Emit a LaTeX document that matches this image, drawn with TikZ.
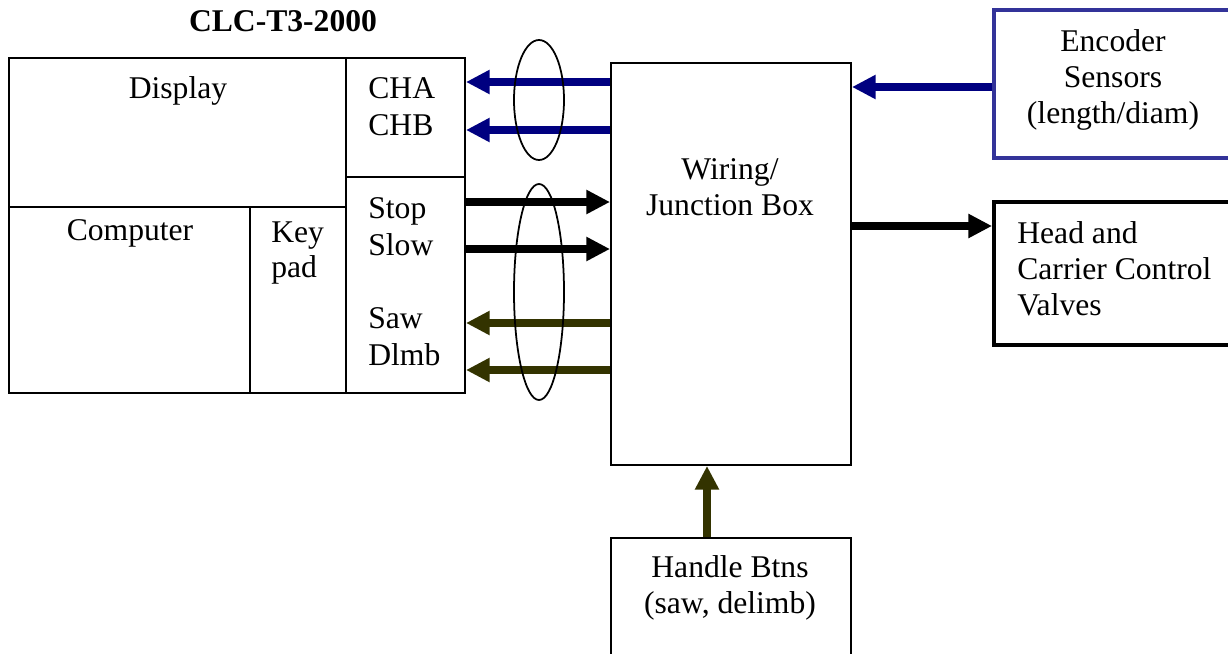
\documentclass[tikz,border=0pt]{standalone}
\usepackage{fontspec}
\setmainfont{Liberation Serif}
\usetikzlibrary{arrows.meta,fit}
\definecolor{busblue}{RGB}{0, 0, 128}
\definecolor{busolive}{RGB}{51, 51, 0}
\definecolor{encblue}{RGB}{51, 51, 153}

\begin{document}
\begin{tikzpicture}[x=0.02cm, y=-0.02cm,
        box/.style={draw, line width=1.1pt, inner sep=0pt},
        txt/.style={inner sep=0pt, font=\fontsize{18}{20.5}\selectfont},
        bus/.style={line width=4pt, -{Triangle[length=13.5pt, width=13pt]}}]
        \clip (0,0) rectangle (1228,653);
        \useasboundingbox (0,0) rectangle (1228,653);

        % Controller panel
        \node[box, fit={(9,58) (346,207)}] (display) {};
        \node[box, fit={(9,207) (250,393)}] (computer) {};
        \node[box, fit={(250,207) (346,393)}] (keypad) {};
        \node[box, fit={(346,58) (465,177)}] (chbox) {};
        \node[box, fit={(346,177) (465,393)}] (iobox) {};

        % Other blocks
        \node[box, fit={(611,63) (851,465)}] (jb) {};
        \node[box, draw=encblue, line width=2pt, fit={(994,10) (1240,158)}] (enc) {};
        \node[box, line width=2.2pt, fit={(994,202) (1240,345)}] (head) {};
        \node[box, fit={(611,538) (851,670)}] (handle) {};

        % Texts
        \node[txt, font=\fontsize{18}{20.5}\selectfont\bfseries, anchor=base] (title) at (283,31) {CLC-T3-2000};
        \node[txt, anchor=base] (displaytxt) at (178,98) {Display};
        \node[txt, anchor=base] (computertxt) at (130,240) {Computer};
        \node[txt, anchor=base west] (keytxt) at (271,242) {Key};
        \node[txt, anchor=base west] (padtxt) at (271,277) {pad};
        \node[txt, anchor=base west] (chatxt) at (368,98) {CHA};
        \node[txt, anchor=base west] (chbtxt) at (368,135) {CHB};
        \node[txt, anchor=base west] (stoptxt) at (368,218) {Stop};
        \node[txt, anchor=base west] (slowtxt) at (368,255) {Slow};
        \node[txt, anchor=base west] (sawtxt) at (368,328) {Saw};
        \node[txt, anchor=base west] (dlmbtxt) at (368,365) {Dlmb};
        \node[txt, align=center] (jbtxt) at (730,187) {Wiring/\\Junction Box};
        \node[txt, align=center] (enctxt) at (1113,80) {Encoder\\Sensors\\(length/diam)};
        \node[txt, align=left, anchor=west] (headtxt) at (1017,269) {Head and\\Carrier Control\\Valves};
        \node[txt, align=center] (handletxt) at (730,588) {Handle Btns\\(saw, delimb)};

        % Signal rows
        \coordinate (rowA) at (0,82);
        \coordinate (rowB) at (0,130);
        \coordinate (rowS) at (0,202);
        \coordinate (rowW) at (0,249);
        \coordinate (rowX) at (0,323);
        \coordinate (rowD) at (0,370);
        \coordinate (rowE) at (0,87);
        \coordinate (rowH) at (0,226);
        \coordinate (colH) at (707,0);

        % Arrows
        \draw[bus, busblue] (jb.west |- rowA) -- (chbox.east |- rowA);
        \draw[bus, busblue] (jb.west |- rowB) -- (chbox.east |- rowB);
        \draw[bus] (iobox.east |- rowS) -- (jb.west |- rowS);
        \draw[bus] (iobox.east |- rowW) -- (jb.west |- rowW);
        \draw[bus, busolive] (jb.west |- rowX) -- (iobox.east |- rowX);
        \draw[bus, busolive] (jb.west |- rowD) -- (iobox.east |- rowD);
        \draw[bus, busblue] (enc.west |- rowE) -- (jb.east |- rowE);
        \draw[bus] (jb.east |- rowH) -- (head.west |- rowH);
        \draw[bus, busolive] (handle.north -| colH) -- (jb.south -| colH);

        % Bundles
        \draw[line width=1pt] (539,100) ellipse [x radius=25, y radius=60];
        \draw[line width=1pt] (539,292) ellipse [x radius=25, y radius=108];
    \end{tikzpicture}
\end{document}
